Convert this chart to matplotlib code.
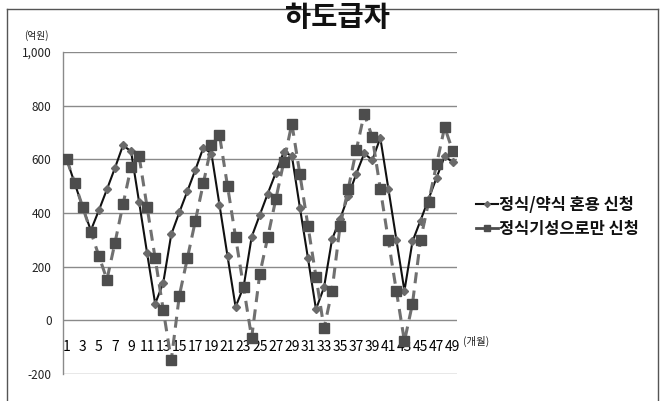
import matplotlib
matplotlib.use("Agg")
import matplotlib.pyplot as plt
from matplotlib.lines import Line2D

plt.rcParams['font.family'] = ['Noto Sans CJK KR', 'DejaVu Sans']
plt.rcParams['axes.unicode_minus'] = False

# Monthly series (unit: 억원)
months = list(range(1, 50))
mixed = [600, 510, 420, 335, 410, 488, 568, 652, 630, 441,
         250, 62, 139, 320, 402, 481, 561, 644, 621, 430,
         239, 50, 125, 311, 392, 472, 550, 628, 613, 420,
         232, 41, 123, 302, 378, 462, 545, 622, 597, 680,
         491, 300, 110, 294, 372, 452, 532, 611, 590]
formal_only = [600, 512, 421, 330, 240, 152, 289, 432, 571, 612,
               421, 231, 40, -149, 91, 231, 371, 512, 652, 690,
               500, 310, 123, -65, 171, 310, 451, 591, 733, 544,
               352, 163, -30, 111, 353, 488, 633, 770, 683, 490,
               298, 109, -78, 62, 300, 440, 582, 720, 632]
series_names = ["정식/약식 혼용 신청", "정식기성으로만 신청"]
y_ticks = [-200, 0, 200, 400, 600, 800, 1000]
y_tick_labels = ["-200", "0", "200", "400", "600", "800", "1,000"]
x_tick_months = list(range(1, 50, 2))

W, H = 664, 401
fig = plt.figure(figsize=(W / 100, H / 100), dpi=100)
fig.patch.set_facecolor("white")

ax = fig.add_axes([62.7 / W, 1 - 374 / H, (456.7 - 62.7) / W, (374 - 52) / H])
ax.set_xlim(0.5, 49.5)
ax.set_ylim(-200, 1000)

ax.plot(months, mixed, color="#111111", lw=1.5, marker="D", markersize=3.8,
        markerfacecolor="#6a6a6a", markeredgecolor="#6a6a6a", zorder=3)
ax.plot(months, formal_only, color="#707070", lw=2.2, dashes=(3.6, 2.4),
        marker="s", markersize=6.5, markerfacecolor="#4d4d4d",
        markeredgecolor="#4d4d4d", zorder=4)

ax.set_yticks(y_ticks)
ax.set_yticklabels(y_tick_labels, fontsize=8.5, color="#222222")
ax.yaxis.grid(True, color="#8a8a8a", lw=1.0)
ax.set_axisbelow(True)
ax.tick_params(axis="y", length=0, pad=8)

ax.set_xticks(x_tick_months)
ax.set_xticklabels([str(m) for m in x_tick_months], fontsize=8, color="#222222")
ax.spines["bottom"].set_position(("data", 0))
ax.spines["bottom"].set_visible(False)
ax.tick_params(axis="x", length=0, pad=14.5)

for side in ("top", "right", "bottom"):
    ax.spines[side].set_visible(False)
ax.spines["left"].set_color("#8a8a8a")
ax.spines["left"].set_linewidth(1.0)

# unit labels
fig.text(36 / W, 1 - 36 / H, "(억원)", fontsize=7, ha="center", va="center", color="#222222")
fig.text(463 / W, 1 - 341.5 / H, "(개월)", fontsize=7.5, ha="left", va="center", color="#222222")

# title
fig.text(337 / W, 1 - 4 / H, "하도급자", fontsize=20.5, fontweight="bold",
         ha="center", va="top", color="#111111")

# legend
handles = [
    Line2D([], [], color="#111111", lw=1.5, marker="D", markersize=3,
           markerfacecolor="#6a6a6a", markeredgecolor="#6a6a6a"),
    Line2D([], [], color="#4d4d4d", lw=2.0, marker="s", markersize=5,
           markerfacecolor="#4d4d4d", markeredgecolor="#4d4d4d"),
]
leg = fig.legend(handles, series_names, loc="center left",
                 bbox_to_anchor=(468 / W, 1 - 217 / H), frameon=False,
                 fontsize=11.8, handlelength=1.3, handletextpad=0.1,
                 labelspacing=0.35, borderpad=0)
for t in leg.get_texts():
    t.set_fontweight("bold")
    t.set_color("#111111")

# outer frame
frame_kw = dict(color="#555555", lw=1.0, transform=fig.transFigure)
fig.add_artist(Line2D([7 / W, 658 / W], [1 - 9 / H, 1 - 9 / H], **frame_kw))
fig.add_artist(Line2D([7 / W, 7 / W], [1 - 9 / H, 0], **frame_kw))
fig.add_artist(Line2D([658 / W, 658 / W], [1 - 9 / H, 0], **frame_kw))

fig.savefig("out.png", dpi=100)
